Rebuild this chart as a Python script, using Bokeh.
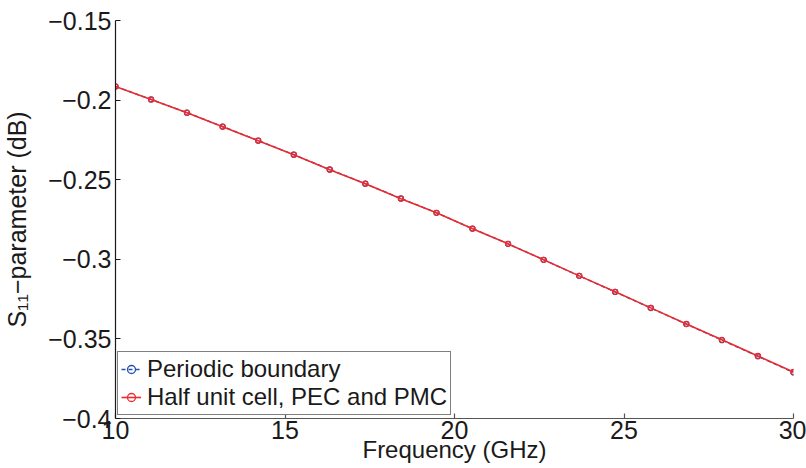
from bokeh.plotting import figure
from bokeh.models import Range1d, FixedTicker, CustomJSTickFormatter
from bokeh.embed import file_html
from bokeh.resources import INLINE

freq = [10.0, 11.05, 12.11, 13.16, 14.21, 15.26, 16.32, 17.37, 18.42, 19.47,
        20.53, 21.58, 22.63, 23.68, 24.74, 25.79, 26.84, 27.89, 28.95, 30.0]
s11_periodic = [-0.1914, -0.1996, -0.2079, -0.2166, -0.2254, -0.2343, -0.2436, -0.2525, -0.2618, -0.2708,
                -0.2807, -0.2903, -0.3003, -0.3104, -0.3205, -0.3306, -0.3407, -0.3508, -0.3609, -0.3711]
s11_half = [-0.1915, -0.1997, -0.2079, -0.2167, -0.2255, -0.2343, -0.2437, -0.2525, -0.2619, -0.2708,
            -0.2808, -0.2903, -0.3003, -0.3104, -0.3204, -0.3305, -0.3406, -0.3506, -0.3607, -0.3708]
x_ticks = [10, 15, 20, 25, 30]
y_ticks = [-0.4, -0.35, -0.3, -0.25, -0.2, -0.15]

FONT = "Liberation Sans"

p = figure(width=806, height=468, output_backend="svg", toolbar_location=None,
           x_range=Range1d(10, 30), y_range=Range1d(-0.4, -0.15),
           min_border_left=113, min_border_right=13, min_border_top=20, min_border_bottom=50)
p.outline_line_color = None
p.xgrid.visible = False
p.ygrid.visible = False
p.background_fill_color = "white"
p.border_fill_color = "white"

blue = "#2150b0"
red = "#ec2a2e"

p.line(freq, s11_periodic, line_color=blue, line_width=1.4, line_dash="4 3",
       legend_label="Periodic boundary")
p.scatter(freq, s11_periodic, marker="circle", size=5, line_color=blue, line_width=1.3,
          fill_color=None, legend_label="Periodic boundary")
p.line(freq, s11_half, line_color=red, line_width=1.6,
       legend_label="Half unit cell, PEC and PMC")
p.scatter(freq, s11_half, marker="circle", size=5, line_color=red, line_width=1.3,
          fill_color=None, legend_label="Half unit cell, PEC and PMC")

fmt = CustomJSTickFormatter(code="""
var v = Math.round(tick*100)/100;
return v.toString().replace('-', '\\u2212');
""")

xa = p.xaxis[0]
xa.ticker = FixedTicker(ticks=x_ticks)
xa.axis_label = "Frequency (GHz)"
ya = p.yaxis[0]
ya.ticker = FixedTicker(ticks=y_ticks)
ya.formatter = fmt
ya.axis_label = "S\u2081\u2081\u2212parameter (dB)"

for ax in (xa, ya):
    ax.major_tick_in = 5
    ax.major_tick_out = 0
    ax.minor_tick_in = 0
    ax.minor_tick_out = 0
    ax.major_label_text_font = FONT
    ax.major_label_text_font_size = "25px"
    ax.major_label_text_color = "#1a1a1a"
    ax.axis_label_text_font = FONT
    ax.axis_label_text_font_size = "24px"
    ax.axis_label_text_font_style = "normal"
    ax.axis_label_text_color = "#1a1a1a"
    ax.axis_line_width = 1.2
    ax.major_tick_line_width = 1.2

ya.axis_label_text_font_size = "25px"
xa.axis_line_color = "#555555"
xa.major_tick_line_color = "#555555"
ya.axis_line_color = "#1a1a1a"
ya.major_tick_line_color = "#1a1a1a"
xa.major_label_standoff = 2
xa.axis_label_standoff = -6
ya.major_label_standoff = 4
ya.axis_label_standoff = 14

lg = p.legend[0]
lg.location = (2, 3)
lg.border_line_color = "black"
lg.border_line_width = 1
lg.background_fill_color = "white"
lg.background_fill_alpha = 1.0
lg.label_text_font = FONT
lg.label_text_font_size = "24px"
lg.label_text_color = "#1a1a1a"
lg.padding = 3
lg.spacing = 0
lg.margin = 0
lg.glyph_width = 20
lg.glyph_height = 28
lg.label_height = 28
lg.label_standoff = 6

open("out.html", "w").write(file_html(p, INLINE))
